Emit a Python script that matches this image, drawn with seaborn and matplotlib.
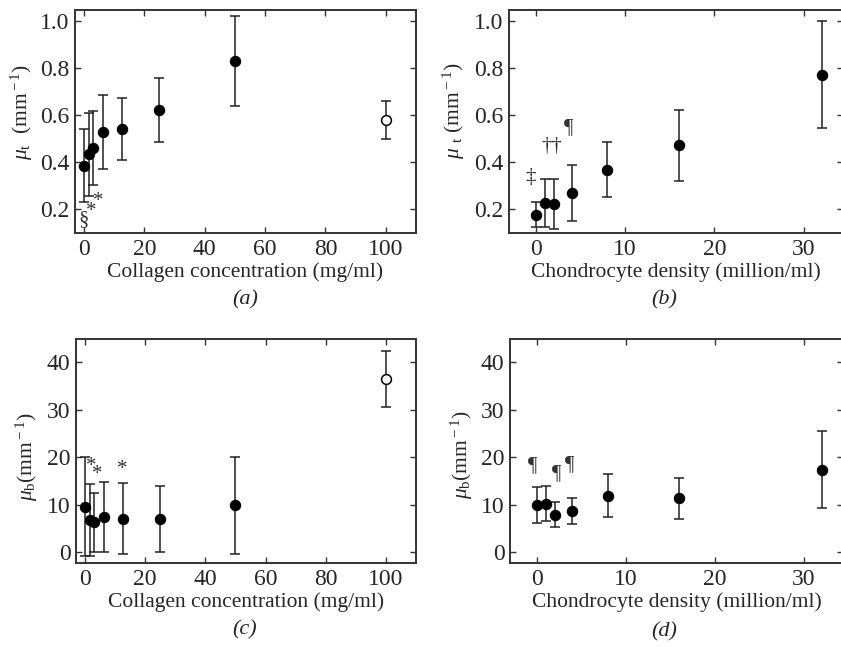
import numpy as np
import pandas as pd
import matplotlib
matplotlib.use("Agg")
import matplotlib.pyplot as plt
import seaborn as sns

# Data
coll_conc = [0, 1.56, 3.13, 6.25, 12.5, 25, 50, 100]
mu_t_coll = [0.385, 0.434, 0.46, 0.528, 0.54, 0.622, 0.83, 0.58]
mu_t_coll_err = [0.155, 0.176, 0.155, 0.155, 0.13, 0.135, 0.19, 0.08]
mu_b_coll = [9.6, 6.8, 6.3, 7.4, 7.0, 7.0, 9.9, 36.5]
mu_b_coll_err = [10.4, 7.6, 6.2, 7.4, 7.5, 7.0, 10.2, 5.9]
coll_open = [False, False, False, False, False, False, False, True]

chon_dens = [0, 1, 2, 4, 8, 16, 32]
mu_t_chon = [0.177, 0.227, 0.224, 0.27, 0.369, 0.471, 0.77]
mu_t_chon_err = [0.053, 0.1, 0.105, 0.12, 0.115, 0.15, 0.227]
mu_b_chon = [9.9, 10.2, 7.9, 8.7, 11.9, 11.3, 17.4]
mu_b_chon_err = [3.8, 3.7, 2.7, 2.8, 4.5, 4.3, 8.2]
chon_open = [False] * 7

# significance marks (text, x, y)
marks_a = [("§", 0, 0.155), ("*", 2.4, 0.19), ("*", 4.6, 0.235)]
marks_b = [("‡", -0.6, 0.335), ("††", 1.8, 0.467), ("¶", 3.65, 0.545)]
marks_c = [("*", 2.2, 18.0), ("*", 3.9, 16.3), ("*", 12.4, 17.4)]
marks_d = [("¶", -0.4, 18.3), ("¶", 2.2, 16.6), ("¶", 3.65, 18.4)]

sns.set_style("ticks")
plt.rcParams["font.family"] = ["Liberation Serif", "DejaVu Serif"]
plt.rcParams["mathtext.fontset"] = "custom"
plt.rcParams["mathtext.rm"] = "Liberation Serif"
plt.rcParams["mathtext.it"] = "Liberation Serif:italic"
plt.rcParams["font.size"] = 17

W, H = 841, 647
fig = plt.figure(figsize=(W / 100, H / 100), dpi=100)


def px_axes(l, r, t, b):
    return fig.add_axes([l / W, 1 - b / H, (r - l) / W, (b - t) / H])


def panel(ax, x, y, err, is_open, marks, xlim, ylim, xticks, yticks, xlabel, ylabel, ylab_xy):
    df = pd.DataFrame({"x": x, "y": y, "err": err, "open": is_open})
    ax.errorbar(df["x"], df["y"], yerr=df["err"], fmt="none", ecolor="#222222",
                elinewidth=1.1, capsize=3.5, capthick=1.1, zorder=2)
    sns.scatterplot(data=df[~df["open"]], x="x", y="y", ax=ax, color="black",
                    s=55, edgecolor="black", linewidth=0.8, zorder=3, legend=False)
    if df["open"].any():
        sns.scatterplot(data=df[df["open"]], x="x", y="y", ax=ax, color="white",
                        s=50, edgecolor="black", linewidth=1.1, zorder=3, legend=False)
    for txt, tx, ty in marks:
        ax.text(tx, ty, txt, ha="center", va="center", fontsize=15, color="#333333")
    ax.set_xlim(*xlim)
    ax.set_ylim(*ylim)
    ax.set_xticks(xticks)
    ax.set_yticks(yticks)
    ax.set_xlabel(xlabel, labelpad=2, fontsize=15.5)
    ax.set_ylabel(ylabel, fontsize=15.5)
    ax.yaxis.set_label_coords(*ylab_xy)
    ax.tick_params(direction="in", length=4, width=1, top=True, right=True,
                   labelsize=17, pad=4, color="#333333")
    for s in ax.spines.values():
        s.set_linewidth(1.4)
        s.set_color("#333333")


ax_a = px_axes(75, 416, 10, 233)
panel(ax_a, coll_conc, mu_t_coll, mu_t_coll_err, coll_open, marks_a,
      (-3, 110), (0.1, 1.045), [0, 20, 40, 60, 80, 100], [0.2, 0.4, 0.6, 0.8, 1.0],
      "Collagen concentration (mg/ml)", r"$\mu_{\rm t}$  (mm$^{\rm -1}$)", (-0.117, 0.543))
ax_a.set_yticklabels(["0.2", "0.4", "0.6", "0.8", "1.0"])

ax_b = px_axes(509, 843, 10, 233)
panel(ax_b, chon_dens, mu_t_chon, mu_t_chon_err, chon_open, marks_b,
      (-3, 34.4), (0.1, 1.045), [0, 10, 20, 30], [0.2, 0.4, 0.6, 0.8, 1.0],
      "Chondrocyte density (million/ml)", r"$\mu$ $_{\rm t}$ (mm$^{\rm -1}$)", (-0.127, 0.547))
ax_b.set_yticklabels(["0.2", "0.4", "0.6", "0.8", "1.0"])

ax_c = px_axes(76, 416, 339, 563)
panel(ax_c, coll_conc, mu_b_coll, mu_b_coll_err, coll_open, marks_c,
      (-3, 110), (-2.3, 44.9), [0, 20, 40, 60, 80, 100], [0, 10, 20, 30, 40],
      "Collagen concentration (mg/ml)", r"$\mu_{\rm b}$(mm$^{\rm -1}$)", (-0.106, 0.475))

ax_d = px_axes(510, 843, 339, 563)
panel(ax_d, chon_dens, mu_b_chon, mu_b_chon_err, chon_open, marks_d,
      (-3, 34.4), (-2.3, 44.9), [0, 10, 20, 30], [0, 10, 20, 30, 40],
      "Chondrocyte density (million/ml)", r"$\mu_{\rm b}$(mm$^{\rm -1}$)", (-0.105, 0.482))

# panel captions
for txt, cx, cy in [("(a)", 245, 300), ("(b)", 664, 300), ("(c)", 245, 630), ("(d)", 664, 632)]:
    fig.text(cx / W, 1 - cy / H, txt, ha="center", va="center", fontsize=16, style="italic")

fig.savefig("out.png", dpi=100)
